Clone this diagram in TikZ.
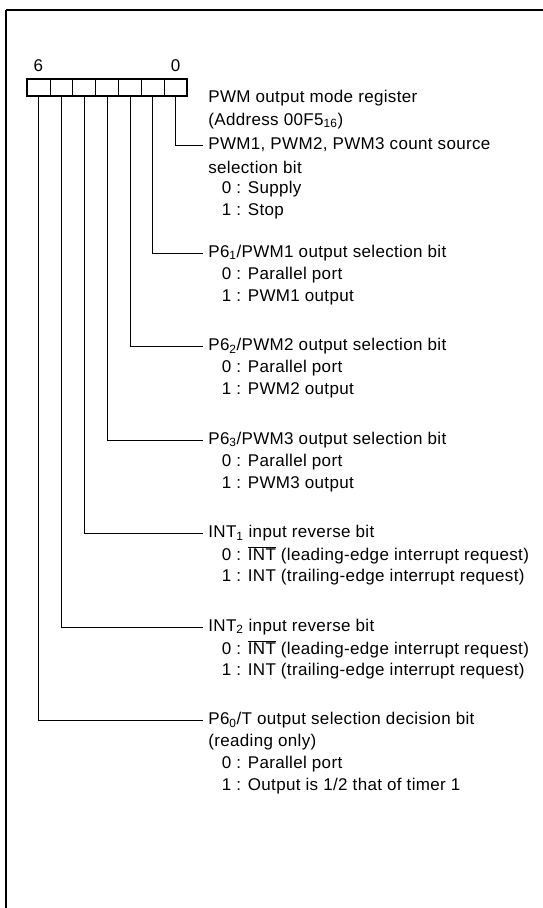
\documentclass[tikz,border=0pt]{standalone}
\usepackage{fontspec}
\setmainfont[LetterSpace=2]{Liberation Sans}
\newcommand{\notint}{$\overline{\mbox{INT}}$}
\begin{document}
\begin{tikzpicture}[x=1pt,y=-1pt,line width=.7pt,
  every node/.style={font=\fontsize{17}{19}\selectfont,inner sep=2.5pt},
  ttl/.style={anchor=west,inner xsep=5pt},
  opt/.style={anchor=west}]
\useasboundingbox (0,0) rectangle (543,908);
% frame
\draw[line width=2.5pt](6,908)--(6,10);
\draw[line width=2pt](6,10)--(543,10);

% register
\draw[line width=1.4pt](27,79) rectangle (187,96);
\foreach \i in {1,...,6}
{
    \draw(27+\i*22.857,79)--(27+\i*22.857,96);
}
\foreach \b in {0,...,6}
{
    \coordinate (c\b) at (27+6.5*22.857-\b*22.857,96);
}
\node (hi) at (38.4,66){6};
\node (lo) at (175.6,66){0};
\node[ttl] (reg) at (203,98){PWM output mode register};
\node[ttl] (adr) at (203,121){(Address 00F5\textsubscript{16})};

% bit 0
\node[ttl] (t0) at (203,145){PWM1, PWM2, PWM3 count source};
\node[ttl] (t0b) at (203,167){selection bit};
\node[opt] at (219,189){0 : Supply};
\node[opt] at (219,211){1 : Stop};

% bits 1 to 5
\foreach \b/\y/\ttl/\za/\oa in {
    1/253/{P6\textsubscript{1}/PWM1 output selection bit}/{Parallel port}/{PWM1 output},
    2/346.5/{P6\textsubscript{2}/PWM2 output selection bit}/{Parallel port}/{PWM2 output},
    3/440/{P6\textsubscript{3}/PWM3 output selection bit}/{Parallel port}/{PWM3 output},
    4/533.5/{INT\textsubscript{1} input reverse bit}/{\notint\ (leading-edge interrupt request)}/{INT (trailing-edge interrupt request)},
    5/627/{INT\textsubscript{2} input reverse bit}/{\notint\ (leading-edge interrupt request)}/{INT (trailing-edge interrupt request)}}
{
    \node[ttl] (t\b) at (203,\y){\ttl};
    \node[opt] at (219,\y+22){0 : \za};
    \node[opt] at (219,\y+44){1 : \oa};
}

% bit 6
\node[ttl] (t6) at (203,720.5){P6\textsubscript{0}/T output selection decision bit};
\node[ttl] (t6b) at (203,742.5){(reading only)};
\node[opt] at (219,764.5){0 : Parallel port};
\node[opt] at (219,786.5){1 : Output is 1/2 that of timer 1};

\foreach \b in {0,...,6}
{
    \draw(c\b)|-(t\b);
}
\end{tikzpicture}
\end{document}
